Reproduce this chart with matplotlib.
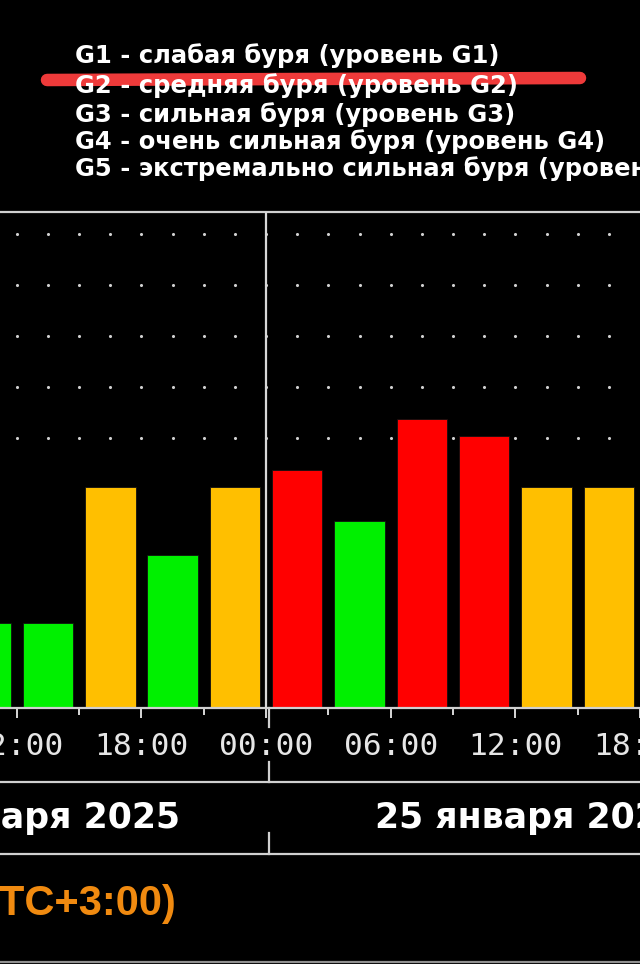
import matplotlib
matplotlib.use("Agg")
import matplotlib.pyplot as plt
from matplotlib.lines import Line2D
import matplotlib.transforms as mtransforms
import numpy as np

# Kp index, 3-hour intervals, hours relative to 00:00 of 25 January (UTC+3)
bar_start = [-15, -12, -9, -6, -3, 0, 3, 6, 9, 12, 15]
kp = [1.67, 1.67, 4.33, 3.0, 4.33, 4.67, 3.67, 5.67, 5.33, 4.33, 4.33]

tick_hours = [-12, -6, 0, 6, 12, 18]
tick_labels = ["12:00", "18:00", "00:00", "06:00", "12:00", "18:00"]
minor_hours = [-9, -3, 3, 9, 15]
grid_levels = [5.3, 6.3, 7.3, 8.3, 9.3]

dates = ["24 января 2025", "25 января 2025"]
legend_lines = [
    "G1 - слабая буря (уровень G1)",
    "G2 - средняя буря (уровень G2)",
    "G3 - сильная буря (уровень G3)",
    "G4 - очень сильная буря (уровень G4)",
    "G5 - экстремально сильная буря (уровень G5)",
]
tz_label = "(UTC+3:00)"

W, H = 640, 964


def fx(px):
    return px / W


def fy(py):
    return 1 - py / H


def kp_color(v):
    if v < 4:
        return "#00f000"
    if v < 4.5:
        return "#ffbf00"
    return "#ff0000"


fig = plt.figure(figsize=(W / 100, H / 100), dpi=100, facecolor="black")

# px per hour = 21, px per Kp unit = 51
ax = fig.add_axes([0, fy(708), 1, fy(212) - fy(708)])
ax.set_facecolor("black")
ax.set_xlim(-269 / 21, (W - 269) / 21)
ax.set_ylim(0, 496 / 51)

# dotted grid
dot_x = np.arange(-12, 17.6, 1.5)
for lv in grid_levels:
    ax.scatter(dot_x, [lv] * len(dot_x), s=5, color="#d0d0d0", lw=0, zorder=1)

centers = [s + 1.5 for s in bar_start]
ax.bar(centers, kp, width=51 / 21, color=[kp_color(v) for v in kp],
       edgecolor="#101010", linewidth=0.6, zorder=2)

ax.axvline(0, color="#d8d8d8", lw=1.6, zorder=3)

for side in ["left", "right"]:
    ax.spines[side].set_visible(False)
for side in ["top", "bottom"]:
    ax.spines[side].set_color("#d0d0d0")
    ax.spines[side].set_linewidth(1.6)
ax.set_yticks([])
ax.set_xticks(tick_hours)
ax.set_xticklabels([])
ax.set_xticks(minor_hours, minor=True)
ax.tick_params(axis="x", which="major", direction="out", length=7.5, width=1.4, color="#d8d8d8")
ax.tick_params(axis="x", which="minor", direction="out", length=5, width=1.4, color="#d8d8d8")

# time labels
trans = mtransforms.blended_transform_factory(ax.transData, fig.transFigure)
for h, lab in zip(tick_hours, tick_labels):
    ax.text(h, fy(755), lab, transform=trans, ha="center", va="baseline",
            family="DejaVu Sans Mono", fontsize=22.5, color="#e6e6e6", clip_on=False)

# separator segments below the axis and horizontal rules
line_kw = dict(color="#d0d0d0", lw=1.6, transform=fig.transFigure)
x_sep = fx(269)
for y0, y1 in [(708, 727), (762, 782), (833, 854)]:
    fig.add_artist(Line2D([x_sep, x_sep], [fy(y0), fy(y1)], **line_kw))
for yy in [782, 854]:
    fig.add_artist(Line2D([0, 1], [fy(yy), fy(yy)], **line_kw))
fig.add_artist(Line2D([0, 1], [fy(962), fy(962)], color="#909090", lw=1.6,
                      transform=fig.transFigure))

# date labels
fig.text(fx(180), fy(828), dates[0], ha="right", va="baseline",
         family="DejaVu Sans", weight="bold", fontsize=25, color="white")
fig.text(fx(375), fy(828), dates[1], ha="left", va="baseline",
         family="DejaVu Sans", weight="bold", fontsize=25, color="white")

# time zone label
fig.text(fx(177), fy(915), tz_label, ha="right", va="baseline",
         family="Liberation Sans", weight="bold", fontsize=30, color="#f08a10")

# legend text
baselines = [63, 93, 122, 149, 176]
for yy, line in zip(baselines, legend_lines):
    fig.text(fx(75), fy(yy), line, ha="left", va="baseline",
             family="DejaVu Sans", weight="bold", fontsize=17.5, color="white")

# red marker stroke over G2
fig.add_artist(Line2D([fx(47), fx(300), fx(580)], [fy(80), fy(79), fy(78)],
                      color="#ee3a3a", lw=9, solid_capstyle="round",
                      transform=fig.transFigure))

fig.savefig("out.png", dpi=100, facecolor="black")
